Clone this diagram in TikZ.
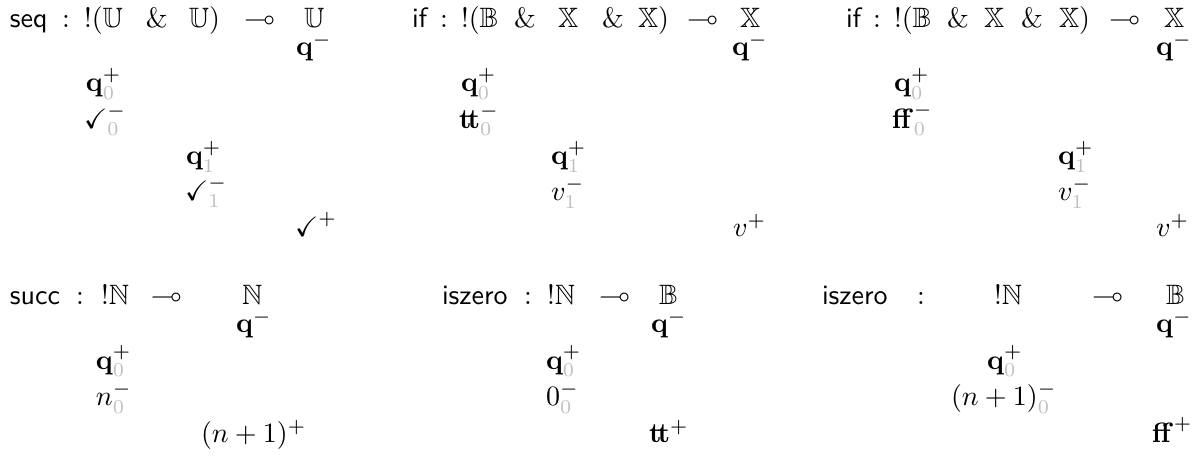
\documentclass[tikz,border=0pt]{standalone}
\usepackage{amssymb}
\usepackage{xcolor}
\newcommand\gz[1]{{\color{black!25}#1}}
\newcommand\bq{\mathbf{q}}
\newcommand\btt{\mathbf{t}\mkern-2.5mu\mathbf{t}}
\tikzset{
  t/.style={anchor=base west, inner sep=0pt, outer sep=0pt},
}
\begin{document}
\begin{tikzpicture}[x=0.35714pt, y=-0.35714pt]
\fill[white] (0,0) rectangle (1202,456);
\useasboundingbox (0,0) rectangle (1202,456);
% ---------- panel 1: seq ----------
\node[t] (a1) at (10,28) {\textsf{seq}};
\node[t] (a2) at (62,28) {$:$};
\node[t] (a3) at (84,28) {$!(\mathbb{U}$};
\node[t] (a4) at (146,28) {$\&$};
\node[t] (a5) at (189,28) {$\mathbb{U})$};
\node[t] (a6) at (244,28) {$\multimap$};
\node[t] (a7) at (304,28) {$\mathbb{U}$};
\node[t] (a8) at (296,56) {$\bq^{-}$};
\node[t] (a9) at (86,92) {$\bq^{+}_{\gz{0}}$};
\node[t] (a10) at (84,128.5) {$\checkmark^{-}_{\gz{0}}$};
\node[t] (a11) at (186,165) {$\bq^{+}_{\gz{1}}$};
\node[t] (a12) at (185,201) {$\checkmark^{-}_{\gz{1}}$};
\node[t] (a13) at (295,237) {$\checkmark^{+}$};
% ---------- panel 2: if (tt) ----------
\node[t] (b1) at (412,28) {\textsf{if}};
\node[t] (b2) at (440,28) {$:$};
\node[t] (b3) at (461,28) {$!(\mathbb{B}$};
\node[t] (b4) at (514,28) {$\&$};
\node[t] (b5) at (558,28) {$\mathbb{X}$};
\node[t] (b6) at (602,28) {$\&$};
\node[t] (b7) at (638,28) {$\mathbb{X})$};
\node[t] (b8) at (687,28) {$\multimap$};
\node[t] (b9) at (740,28) {$\mathbb{X}$};
\node[t] (b10) at (732,56) {$\bq^{-}$};
\node[t] (b11) at (461,92) {$\bq^{+}_{\gz{0}}$};
\node[t] (b12) at (459,128.5) {$\btt^{-}_{\gz{0}}$};
\node[t] (b13) at (551,165) {$\bq^{+}_{\gz{1}}$};
\node[t] (b14) at (551,201) {$v^{-}_{\gz{1}}$};
\node[t] (b15) at (733,237) {$v^{+}$};
% ---------- panel 3: if (ff) ----------
\node[t] (c1) at (846,28) {\textsf{if}};
\node[t] (c2) at (873,28) {$:$};
\node[t] (c3) at (894,28) {$!(\mathbb{B}$};
\node[t] (c4) at (947,28) {$\&$};
\node[t] (c5) at (984,28) {$\mathbb{X}$};
\node[t] (c6) at (1021,28) {$\&$};
\node[t] (c7) at (1059,28) {$\mathbb{X})$};
\node[t] (c8) at (1109,28) {$\multimap$};
\node[t] (c9) at (1164,28) {$\mathbb{X}$};
\node[t] (c10) at (1156,56) {$\bq^{-}$};
\node[t] (c11) at (894,92) {$\bq^{+}_{\gz{0}}$};
\node[t] (c12) at (892,128.5) {$\mathbf{ff}^{-}_{\gz{0}}$};
\node[t] (c13) at (1058,165) {$\bq^{+}_{\gz{1}}$};
\node[t] (c14) at (1058,201) {$v^{-}_{\gz{1}}$};
\node[t] (c15) at (1156,237) {$v^{+}$};
% ---------- panel 4: succ ----------
\node[t] (d1) at (10,305) {\textsf{succ}};
\node[t] (d2) at (76,305) {$:$};
\node[t] (d3) at (101,305) {$!\mathbb{N}$};
\node[t] (d4) at (151,305) {$\multimap$};
\node[t] (d5) at (242,305) {$\mathbb{N}$};
\node[t] (d6) at (236,333) {$\bq^{-}$};
\node[t] (d7) at (96,369.5) {$\bq^{+}_{\gz{0}}$};
\node[t] (d8) at (96,406) {$n^{-}_{\gz{0}}$};
\node[t] (d9) at (201,442.5) {$(n+1)^{+}$};
% ---------- panel 5: iszero (0) ----------
\node[t] (e1) at (442,305) {\textsf{iszero}};
\node[t] (e2) at (524,305) {$:$};
\node[t] (e3) at (547,305) {$!\mathbb{N}$};
\node[t] (e4) at (599,305) {$\multimap$};
\node[t] (e5) at (659,305) {$\mathbb{B}$};
\node[t] (e6) at (651,333) {$\bq^{-}$};
\node[t] (e7) at (546,369.5) {$\bq^{+}_{\gz{0}}$};
\node[t] (e8) at (546,406) {$0^{-}_{\gz{0}}$};
\node[t] (e9) at (649,442.5) {$\btt^{+}$};
% ---------- panel 6: iszero (n+1) ----------
\node[t] (f1) at (822,305) {\textsf{iszero}};
\node[t] (f2) at (917,305) {$:$};
\node[t] (f3) at (994,305) {$!\mathbb{N}$};
\node[t] (f4) at (1092,305) {$\multimap$};
\node[t] (f5) at (1166,305) {$\mathbb{B}$};
\node[t] (f6) at (1156,333) {$\bq^{-}$};
\node[t] (f7) at (987,369.5) {$\bq^{+}_{\gz{0}}$};
\node[t] (f8) at (951,406) {$(n+1)^{-}_{\gz{0}}$};
\node[t] (f9) at (1152,442.5) {$\mathbf{ff}^{+}$};
\end{tikzpicture}
\end{document}
